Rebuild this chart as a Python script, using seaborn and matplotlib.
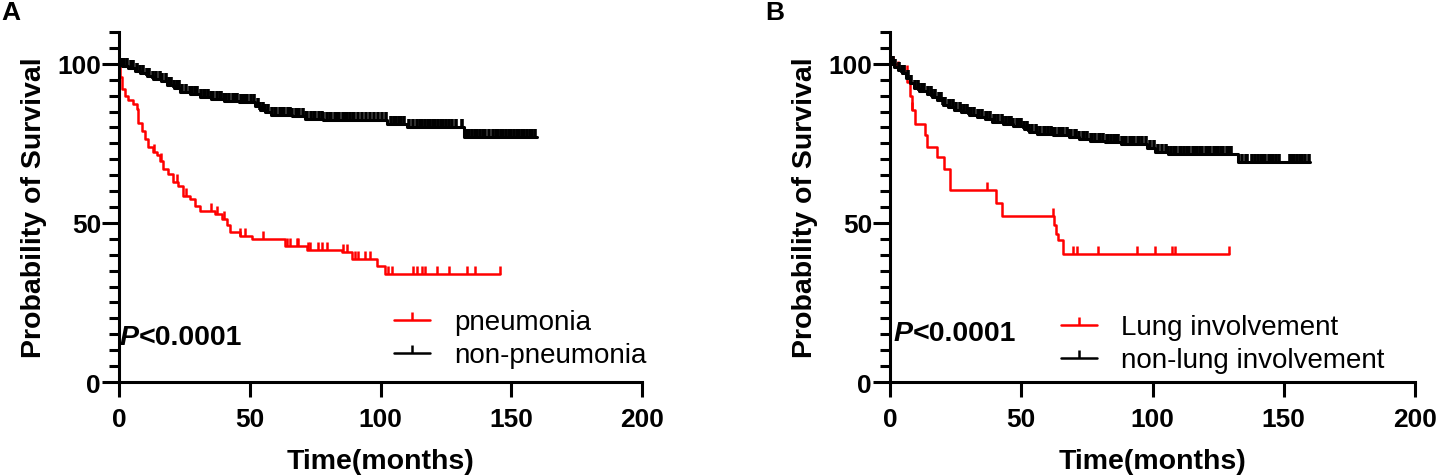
import numpy as np
import pandas as pd
import matplotlib
matplotlib.use('Agg')
import matplotlib.pyplot as plt
from matplotlib.path import Path
from matplotlib.lines import Line2D
from matplotlib.ticker import MultipleLocator
import seaborn as sns

# Panel A: pneumonia vs non-pneumonia (step points and censored times, months / %)
a_red_t = [0, 0.4, 1, 2.3, 3.6, 5.5, 6.8, 7.4, 8.7, 10, 11.2, 13.1, 14.4, 15.7, 17,
           18.9, 20.8, 22.7, 24.6, 27.2, 29.1, 31, 36.7, 39.3, 41.2, 42.4, 46.3,
           50.7, 63.5, 71.8, 85.2, 89, 98.5, 101.7, 145.7]
a_red_s = [100, 96, 92, 90, 88.5, 87.4, 85.8, 81.5, 79, 76.4, 73.8, 72.2, 71.2, 69.6, 67,
           65.4, 62.8, 61.7, 58.6, 57.5, 55.4, 53.9, 52.8, 51.3, 49.2, 47.1, 46,
           44.8, 42.9, 41.6, 40.8, 38.7, 36.4, 34, 34]
a_red_cens = [13.5, 16, 22, 25.5, 35, 37.5, 40, 46.3, 48, 55, 64.3, 65.4, 68, 68.5, 72.3,
              73, 76, 77.6, 79.6, 85.7, 87.2, 90.2, 91.5, 94, 96, 103, 104.3, 112.5,
              113.8, 115.7, 117, 121.5, 126, 133, 136, 145.7]

a_blk_t = [0, 1, 3.5, 6, 8, 10.5, 13, 16, 18.5, 21, 23.5, 27, 31, 35, 40, 46, 52, 54,
           56, 58, 66, 71, 78, 102.5, 110, 132, 160]
a_blk_s = [100, 99.3, 98.6, 97.8, 97.2, 96.2, 95.2, 94.5, 93.2, 92.5, 91.2, 90.6, 89.5,
           89, 88.2, 88, 86.8, 85.5, 84.8, 84, 83.6, 82.8, 82.2, 81.1, 80.1, 77, 77]
a_blk_cens = [1, 2, 3, 4.5, 5.5, 7, 8, 9, 10.5, 11.5, 13, 14, 15.5, 16.5, 18, 19, 20, 21,
              22, 23, 24, 25.5, 27, 28, 29, 30, 31.5, 32.5, 33, 34, 35, 36, 37.5, 38.5,
              39, 40, 41, 42, 43.5, 44.5, 45, 46.5, 47.5, 48, 49, 50.5, 51.5, 53, 54, 55,
              56, 57, 58.5, 59.5, 60, 61.5, 62.5, 63, 64.5, 65.5, 66, 67.5, 68.5, 69,
              70.5, 71.5, 72, 73.5, 74.5, 75, 76.5, 77.5, 78, 79.5, 80.5, 81, 82.5, 83.5,
              84, 85.5, 86.5, 87, 88.5, 89.5, 90, 91.5, 93, 94.5, 96, 97.5, 99, 100.5,
              102, 104, 105, 106, 107, 108, 109, 111, 112.5, 114, 115, 116, 117, 118,
              119, 120, 121, 122, 123, 124, 125, 126, 127.5, 129, 131, 133, 134, 135,
              136, 137, 138, 139, 140, 141.5, 143, 144, 145, 146, 147, 148, 149, 150,
              151, 152, 153, 154, 155, 156, 157, 158, 159]

# Panel B: lung involvement vs non-lung involvement
b_red_t = [0, 3, 4.5, 6.5, 7.5, 8.2, 9.5, 13.3, 14, 17.8, 20.7, 22.9, 40.4, 42.5,
           62.5, 63.2, 64, 66, 129.2]
b_red_s = [100, 98.5, 97, 94.2, 90, 85.5, 81.1, 77.5, 74, 70.7, 67, 60.2, 56.3, 52.3,
           49.5, 46.5, 44.5, 40.3, 40.3]
b_red_cens = [1.3, 3.2, 4.5, 5.5, 6.3, 8.5, 36.8, 62.2, 69.8, 71.1, 79.4, 94, 101,
              107.5, 108.5, 129.2]

b_blk_t = [0, 1.5, 3, 4.5, 6, 7.5, 9, 11, 14, 16, 18, 20, 22, 24.5, 27, 30, 33, 36, 39,
           43, 47, 51, 53, 56, 62, 68, 72, 76, 82, 88, 98, 101, 106, 132.5, 160]
b_blk_s = [100, 99, 98, 97, 95.5, 94, 92.5, 91.5, 90.6, 89.5, 88.5, 87.2, 86.4, 85.5,
           84.8, 83.8, 83.2, 82.7, 81.8, 81.2, 80.6, 79.4, 78.5, 78, 77.5, 77, 76.3,
           75.8, 75.3, 74.8, 73.5, 72.4, 71.7, 69, 69]
b_blk_cens = [1, 2, 3.5, 4.5, 5.5, 7, 8, 9.5, 10.5, 11, 12, 13, 14.5, 15.5, 16, 17,
              18.5, 19.5, 20, 21, 22.5, 23, 24, 25, 26.5, 27, 28, 29.5, 30, 31, 32, 33.5,
              34, 35, 36.5, 37, 38, 39.5, 40, 41, 42.5, 43, 44, 45.5, 46, 47, 48.5, 49,
              50, 51, 52, 53, 54, 55.5, 56, 57, 58.5, 59, 60, 61.5, 62, 63, 64.5, 65, 66,
              67.5, 68, 69, 70.5, 71, 72, 73.5, 74, 75, 76.5, 77, 78, 79.5, 80, 81, 82.5,
              83, 84, 85.5, 86, 87, 88.5, 89, 90, 91.5, 92, 93, 94.5, 95, 96, 97.5, 99,
              100.5, 102, 103.5, 105, 106, 107, 108, 109, 110.5, 111, 112, 113, 114,
              115.5, 116, 117, 118, 119, 120.5, 121, 122, 123.5, 124, 125, 126, 127,
              128.5, 129, 130, 134, 135.5, 136, 138, 139, 140, 141.5, 142, 143, 144.5,
              145, 146, 147, 148, 152.5, 153, 154, 155, 156, 157, 158, 159.6]

RED = '#FF0000'
BLACK = '#000000'
tick_mark = Path([(0, 0), (0, 1)])


def step_value(t, s, c):
    idx = np.searchsorted(t, c, side='right') - 1
    return np.asarray(s)[idx]


def km_curve(ax, t, s, cens, color, lw, mew):
    df = pd.DataFrame({'time': t, 'surv': s})
    sns.lineplot(data=df, x='time', y='surv', drawstyle='steps-post', color=color,
                 lw=lw, ax=ax, estimator=None, sort=False)
    ax.plot(cens, step_value(t, s, cens), ls='none', marker=tick_mark, ms=12,
            mew=mew, color=color)


def style_axes(ax):
    ax.set_xlim(0, 200)
    ax.set_ylim(0, 110)
    ax.xaxis.set_major_locator(MultipleLocator(50))
    ax.set_yticks([0, 50, 100])
    ax.yaxis.set_minor_locator(MultipleLocator(5))
    for side in ['top', 'right']:
        ax.spines[side].set_visible(False)
    for side in ['left', 'bottom']:
        ax.spines[side].set_linewidth(2.2)
        ax.spines[side].set_color('black')
    ax.tick_params(axis='x', which='major', length=11, width=2.2, pad=7, labelsize=19,
                   colors='black')
    ax.tick_params(axis='y', which='major', length=12, width=2.2, pad=1, labelsize=19,
                   colors='black')
    ax.tick_params(axis='y', which='minor', length=7, width=2.2, colors='black')
    for lab in ax.get_xticklabels() + ax.get_yticklabels():
        lab.set_fontweight('bold')
    ax.set_xlabel('Time(months)', fontsize=20.5, fontweight='bold', labelpad=12)
    ax.set_ylabel('Probability of Survival', fontsize=20.5, fontweight='bold', labelpad=7)


def p_value(ax, x, y):
    t = ax.text(x, y, 'P', fontsize=20.5, fontweight='bold', style='italic',
                va='baseline', ha='left')
    ax.annotate('<0.0001', xy=(1, 0), xycoords=t, fontsize=20.5, fontweight='bold',
                va='bottom', ha='left')


def legend(ax, labels, anchor):
    handles = [Line2D([], [], color=RED, lw=1.8, marker=tick_mark, ms=12, mew=1.8),
               Line2D([], [], color=BLACK, lw=1.8, marker=tick_mark, ms=12, mew=1.8)]
    ax.legend(handles, labels, loc='center left', bbox_to_anchor=anchor,
              bbox_transform=ax.transData, frameon=False, fontsize=20,
              handlelength=1.32, handletextpad=0.85, labelspacing=0.25,
              borderpad=0, borderaxespad=0, numpoints=1)


sns.set_style('ticks')
plt.rcParams['font.family'] = ['Liberation Sans', 'DejaVu Sans']
plt.rcParams['text.color'] = 'black'
plt.rcParams['axes.labelcolor'] = 'black'

fig = plt.figure(figsize=(14.36, 4.77), dpi=100)
ax_a = fig.add_axes([0.0829, 0.197, 0.3642, 0.7338])
ax_b = fig.add_axes([0.6198, 0.197, 0.3656, 0.7338])

km_curve(ax_a, a_red_t, a_red_s, a_red_cens, RED, 1.8, 1.8)
km_curve(ax_a, a_blk_t, a_blk_s, a_blk_cens, BLACK, 2.2, 2.6)
style_axes(ax_a)
p_value(ax_a, 0.3, 12.0)
legend(ax_a, ['pneumonia', 'non-pneumonia'], (105, 13.6))

km_curve(ax_b, b_red_t, b_red_s, b_red_cens, RED, 1.8, 1.8)
km_curve(ax_b, b_blk_t, b_blk_s, b_blk_cens, BLACK, 2.2, 2.6)
style_axes(ax_b)
p_value(ax_b, 1.4, 13.1)
legend(ax_b, ['Lung involvement', 'non-lung involvement'], (65, 12.0))

fig.text(0.001, 0.998, 'A', fontsize=19, fontweight='bold', va='top', ha='left')
fig.text(0.533, 0.998, 'B', fontsize=19, fontweight='bold', va='top', ha='left')

fig.savefig('out.png', dpi=100)
